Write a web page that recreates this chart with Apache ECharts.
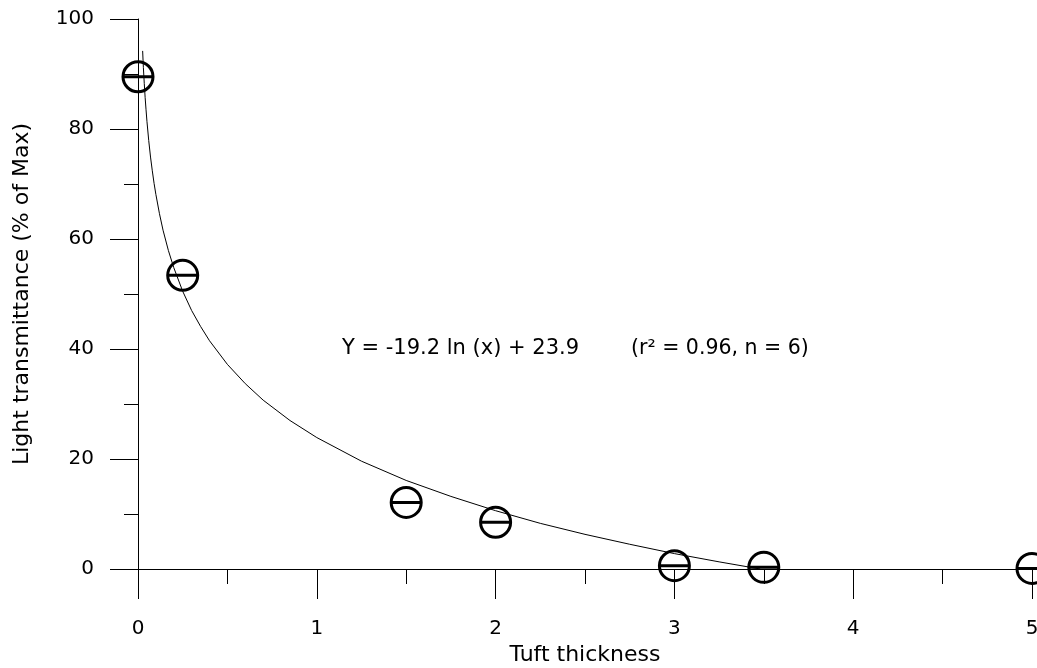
<!DOCTYPE html>
<html>
<head>
<meta charset="utf-8">
<script src="https://cdn.jsdelivr.net/npm/echarts@6/dist/echarts.min.js"></script>
<style>html,body{margin:0;padding:0;background:#fff;}#c{width:1037px;height:668px;}</style>
</head>
<body>
<div id="c"></div>
<script>
// Observed data points (Tuft thickness, Light transmittance %)
var pointX = [0, 0.25, 1.5, 2.0, 3.0, 3.5, 5.0];
var pointY = [89.5, 53.4, 12.1, 8.5, 0.6, 0.3, 0.1];

// Fitted curve
var curveX = [0.026, 0.03, 0.035, 0.04, 0.045, 0.05, 0.06, 0.07, 0.08, 0.09, 0.1, 0.12, 0.14, 0.17, 0.2, 0.25, 0.3, 0.35, 0.4, 0.5, 0.6, 0.7, 0.85, 1.0, 1.25, 1.5, 1.75, 2.0, 2.25, 2.5, 2.75, 3.0, 3.25, 3.48];
var curveY = [94.2, 91.2, 88.3, 85.7, 83.5, 81.4, 77.9, 74.9, 72.4, 70.1, 68.1, 64.6, 61.6, 57.9, 54.8, 50.5, 47.0, 44.1, 41.5, 37.2, 33.7, 30.7, 27.0, 23.9, 19.6, 16.1, 13.2, 10.6, 8.3, 6.3, 4.5, 2.8, 1.3, 0.0];

var xTicks = ['0', '1', '2', '3', '4', '5'];
var yTicks = ['0', '20', '40', '60', '80', '100'];

var xTitle = 'Tuft thickness';
var yTitle = 'Light transmittance (% of Max)';
var eqText = 'Y = -19.2 ln (x) + 23.9';
var statText = '(r\u00B2 = 0.96, n = 6)';

var FONT = 'DejaVu Sans';
var chart = echarts.init(document.getElementById('c'), null, {renderer: 'canvas'});

var pts = pointX.map(function (x, i) { return [x, pointY[i]]; });
var curve = curveX.map(function (x, i) { return [x, curveY[i]]; });

var sym = 'path://M15,0 A15,15 0 1,1 15,30 A15,15 0 1,1 15,0 Z M0,15 L30,15';

chart.setOption({
  animation: false,
  backgroundColor: '#fff',
  grid: {left: 138, top: 19, right: 5, bottom: 99, containLabel: false, outerBoundsMode: 'none'},
  xAxis: {
    type: 'value', min: 0, max: 5, interval: 1,
    name: xTitle, nameLocation: 'middle', nameGap: 72,
    nameTextStyle: {fontFamily: FONT, fontSize: 22, color: '#000'},
    axisLine: {show: true, onZero: false, lineStyle: {color: '#000', width: 1}},
    axisTick: {show: true, inside: false, length: 30, lineStyle: {color: '#000', width: 1}},
    minorTick: {show: true, splitNumber: 2, length: 15, lineStyle: {color: '#000', width: 1}},
    axisLabel: {margin: 50, fontFamily: FONT, fontSize: 20, color: '#000', hideOverlap: false,
      formatter: function (v) { return xTicks[Math.round(v)]; }},
    splitLine: {show: false}, minorSplitLine: {show: false}
  },
  yAxis: {
    type: 'value', min: 0, max: 100, interval: 20,
    name: yTitle, nameLocation: 'middle', nameGap: 105, nameRotate: 90,
    nameTextStyle: {fontFamily: FONT, fontSize: 22, color: '#000'},
    axisLine: {show: true, onZero: false, lineStyle: {color: '#000', width: 1}},
    axisTick: {show: true, inside: false, length: 28, lineStyle: {color: '#000', width: 1}},
    minorTick: {show: true, splitNumber: 2, length: 14, lineStyle: {color: '#000', width: 1}},
    axisLabel: {margin: 44, fontFamily: FONT, fontSize: 20, color: '#000',
      formatter: function (v) { return yTicks[Math.round(v / 20)]; }},
    splitLine: {show: false}, minorSplitLine: {show: false}
  },
  series: [
    {
      type: 'line', data: curve, smooth: false, showSymbol: false,
      lineStyle: {color: '#000', width: 1}, z: 2, clip: false
    },
    {
      type: 'scatter', data: pts, symbol: sym, symbolSize: 30,
      itemStyle: {color: 'rgba(0,0,0,0)', borderColor: '#000', borderWidth: 3, opacity: 1},
      z: 3, clip: false
    }
  ],
  graphic: [
    {type: 'text', x: 342, y: 349, style: {text: eqText, fill: '#000', font: '21px "' + FONT + '"', verticalAlign: 'middle', align: 'left'}},
    {type: 'text', x: 631, y: 349, style: {text: statText, fill: '#000', font: '20.5px "' + FONT + '"', verticalAlign: 'middle', align: 'left'}}
  ]
});
</script>
</body>
</html>
